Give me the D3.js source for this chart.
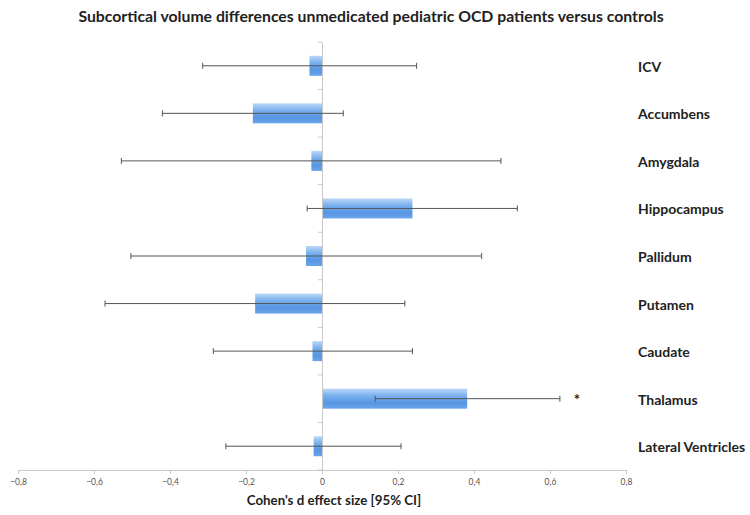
<!DOCTYPE html>
<html>
<head>
<meta charset="utf-8">
<script src="https://cdn.jsdelivr.net/npm/d3@7"></script>
<style>
  body{margin:0;background:#fff;}
  svg text{font-family:Lato,"Open Sans",sans-serif;}
</style>
</head>
<body>
<svg id="chart" width="750" height="515"></svg>
<script>
// data
var regions=["ICV","Accumbens","Amygdala","Hippocampus","Pallidum","Putamen","Caudate","Thalamus","Lateral Ventricles"];
var effect=[-0.033,-0.182,-0.028,0.238,-0.042,-0.176,-0.025,0.382,-0.022];
var ciLow=[-0.314,-0.42,-0.528,-0.039,-0.503,-0.571,-0.286,0.14,-0.253];
var ciHigh=[0.249,0.056,0.471,0.514,0.42,0.218,0.238,0.626,0.208];
var significant=["Thalamus"];
var xTicks=[-0.8,-0.6,-0.4,-0.2,0,0.2,0.4,0.6,0.8];

var rows=regions.map(function(r,i){
  return {name:r,d:effect[i],lo:ciLow[i],hi:ciHigh[i]};
});

var svg=d3.select("#chart");

var x=d3.scaleLinear().domain([-0.8,0.8]).range([18,626]);
var band=d3.scaleBand().domain(regions).range([42,470]);
var barH=20;

// gradient for bars
var grad=svg.append("defs").append("linearGradient")
  .attr("id","barGrad").attr("x1",0).attr("y1",0).attr("x2",0).attr("y2",1);
grad.append("stop").attr("offset","0%").attr("stop-color","#bcd8f8");
grad.append("stop").attr("offset","35%").attr("stop-color","#79b0ee");
grad.append("stop").attr("offset","70%").attr("stop-color","#5796e4");
grad.append("stop").attr("offset","100%").attr("stop-color","#6aa3ea");

// title
svg.append("text")
  .attr("x",371).attr("y",22)
  .attr("text-anchor","middle")
  .attr("font-size",15.8).attr("font-weight","bold").attr("fill","#222")
  .text("Subcortical volume differences unmedicated pediatric OCD patients versus controls");

// x axis
var xAxis=svg.append("g").attr("transform","translate(0,470)")
  .call(d3.axisBottom(x).tickValues(xTicks).tickSize(4).tickPadding(5)
    .tickFormat(function(v){return v===0?"0":d3.format(".1f")(v).replace(".",",");}));
xAxis.select(".domain").attr("stroke","#c8c8c8");
xAxis.selectAll(".tick line").attr("stroke","#c8c8c8");
xAxis.selectAll(".tick text").attr("fill","#555").attr("font-size",8.5);

svg.append("text")
  .attr("x",334).attr("y",505)
  .attr("text-anchor","middle")
  .attr("font-size",13.3).attr("font-weight","bold").attr("fill","#222")
  .text("Cohen's d effect size [95% CI]");

// bars
svg.append("g").selectAll("rect").data(rows).enter().append("rect")
  .attr("x",function(d){return x(Math.min(0,d.d));})
  .attr("width",function(d){return Math.abs(x(d.d)-x(0));})
  .attr("y",function(d){return band(d.name)+band.bandwidth()/2-barH/2;})
  .attr("height",barH)
  .attr("fill","url(#barGrad)");

// vertical zero axis with band ticks
var yAxis=svg.append("g").attr("transform","translate("+x(0)+",0)")
  .call(d3.axisLeft(band).tickSize(0).tickFormat(""));
yAxis.select(".domain").attr("stroke","#c8c8c8");
svg.append("g").selectAll("line").data(d3.range(regions.length+1)).enter().append("line")
  .attr("x1",x(0)-4).attr("x2",x(0))
  .attr("y1",function(i){return 42+i*band.step();})
  .attr("y2",function(i){return 42+i*band.step();})
  .attr("stroke","#c8c8c8");

// error bars
var err=svg.append("g").attr("stroke","#555").attr("stroke-width",1);
rows.forEach(function(d){
  var cy=band(d.name)+band.bandwidth()/2;
  err.append("line").attr("x1",x(d.lo)).attr("x2",x(d.hi)).attr("y1",cy).attr("y2",cy);
  err.append("line").attr("x1",x(d.lo)).attr("x2",x(d.lo)).attr("y1",cy-3).attr("y2",cy+3);
  err.append("line").attr("x1",x(d.hi)).attr("x2",x(d.hi)).attr("y1",cy-3).attr("y2",cy+3);
});

// significance marks
svg.append("g").selectAll("text").data(rows.filter(function(d){return significant.indexOf(d.name)>=0;}))
  .enter().append("text")
  .attr("x",function(d){return x(d.hi)+17;})
  .attr("y",function(d){return band(d.name)+band.bandwidth()/2+6;})
  .attr("text-anchor","middle")
  .attr("font-size",15).attr("font-weight","bold").attr("fill","#222")
  .text("*");

// region labels
svg.append("g").selectAll("text").data(rows).enter().append("text")
  .attr("x",638)
  .attr("y",function(d){return band(d.name)+band.bandwidth()/2+6;})
  .attr("font-size",14).attr("font-weight","bold").attr("fill","#222")
  .text(function(d){return d.name;});
</script>
</body>
</html>
